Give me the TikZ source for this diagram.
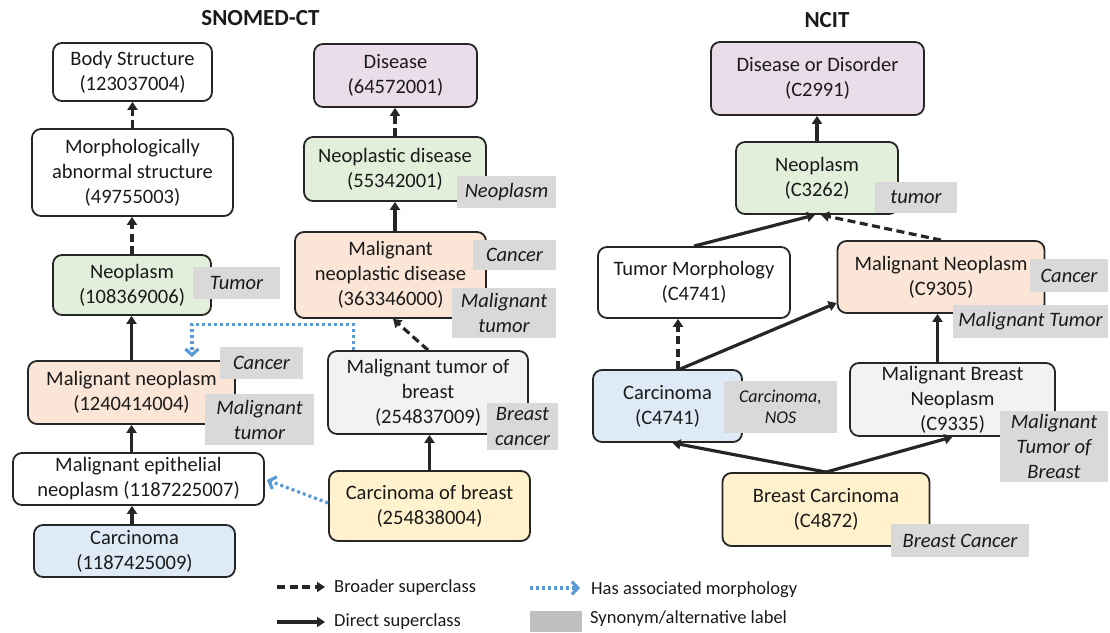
\documentclass[tikz,border=0pt]{standalone}
\usepackage{fontspec}
\setmainfont{Carlito}
\usetikzlibrary{arrows.meta,calc}
\definecolor{edgec}{HTML}{262626}
\definecolor{textc}{HTML}{1A1A1A}
\definecolor{cpurple}{HTML}{EADDE9}
\definecolor{cgreen}{HTML}{E2EFDA}
\definecolor{cpeach}{HTML}{FBE5D6}
\definecolor{cblue}{HTML}{DEEBF7}
\definecolor{cyellow}{HTML}{FFF2CC}
\definecolor{clgray}{HTML}{F2F2F2}
\definecolor{syngray}{HTML}{D9D9D9}
\definecolor{leggray}{HTML}{BFBFBF}
\definecolor{assocblue}{HTML}{5B9BD5}
\newcommand\mynodefont{\fontsize{20.5}{25}\selectfont}
\newcommand\mysmallfont{\fontsize{18}{21.5}\selectfont}
\newcommand\mytitlefont{\fontsize{23}{28}\selectfont\bfseries}
\newcommand\mylegfont{\fontsize{18.5}{22}\selectfont}
\tikzset{
  cbox/.style={draw=edgec, line width=1.8pt, rounded corners=9pt, align=center,
    inner sep=0pt, font=\mynodefont, text=textc},
  syn/.style={fill=syngray, inner sep=0pt, align=center, font=\mynodefont\itshape, text=textc},
  sup/.style={line width=3.2pt, draw=edgec, -{Triangle[length=8pt,width=10pt]}},
  broad/.style={sup, dash pattern=on 8pt off 4.5pt},
  assoc/.style={line width=3.2pt, draw=assocblue, dash pattern=on 3pt off 3pt,
    -{Straight Barb[length=6pt,width=13pt]}},
  legtext/.style={anchor=west, inner sep=0pt, font=\mylegfont, text=textc},
}
\begin{document}
\begin{tikzpicture}[x=1pt,y=-1pt]
\useasboundingbox (0,0) rectangle (1110,632);

% titles
\node[font=\mytitlefont, text=textc] (t1) at (260.5,18) {SNOMED-CT};
\node[font=\mytitlefont, text=textc] (t2) at (827,20) {NCIT};

% SNOMED-CT boxes
\node[cbox, minimum width=159, minimum height=58] (body) at (132.5,72) {Body Structure\\(123037004)};
\node[cbox, minimum width=201, minimum height=87] (morph) at (132.5,172.5) {Morphologically\\abnormal structure\\(49755003)};
\node[cbox, fill=cgreen, minimum width=158, minimum height=60] (neo) at (132,285) {Neoplasm\\(108369006)};
\node[cbox, fill=cpeach, minimum width=207, minimum height=63] (malneo) at (131.5,392.5) {Malignant neoplasm\\(1240414004)};
\node[cbox, minimum width=251, minimum height=52] (malepi) at (138.5,479) {Malignant epithelial\\neoplasm (1187225007)};
\node[cbox, fill=cblue, minimum width=201, minimum height=52] (carc) at (134.5,551) {Carcinoma\\(1187425009)};
\node[cbox, fill=cpurple, minimum width=163, minimum height=63] (disease) at (395.5,75.5) {Disease\\(64572001)};
\node[cbox, fill=cgreen, minimum width=182, minimum height=64] (neodis) at (395,169) {Neoplastic disease\\(55342001)};
\node[cbox, fill=cpeach, minimum width=191, minimum height=86] (malneodis) at (390.5,275) {Malignant\\neoplastic disease\\(363346000)};
\node[cbox, fill=clgray, minimum width=200, minimum height=83] (maltumbreast) at (428,392.5) {Malignant tumor of\\breast\\(254837009)};
\node[cbox, fill=cyellow, minimum width=201, minimum height=70] (carcbreast) at (429.5,506) {Carcinoma of breast\\(254838004)};

% NCIT boxes
\node[cbox, fill=cpurple, minimum width=213, minimum height=73] (disorder) at (817.5,78.5) {Disease or Disorder\\(C2991)};
\node[cbox, fill=cgreen, minimum width=162, minimum height=72] (ncneo) at (817,178) {Neoplasm\\(C3262)};
\node[cbox, minimum width=192, minimum height=71] (tumorph) at (694,282.5) {Tumor Morphology\\(C4741)};
\node[cbox, fill=cpeach, minimum width=207, minimum height=72] (ncmalneo) at (941,277) {Malignant Neoplasm\\(C9305)};
\node[cbox, fill=cblue, minimum width=149, minimum height=72] (nccarc) at (667.5,406) {Carcinoma\\(C4741)};
\node[cbox, fill=clgray, minimum width=205, minimum height=73] (malbreastneo) at (952.5,399.5) {Malignant Breast\\Neoplasm\\(C9335)};
\node[cbox, fill=cyellow, minimum width=207, minimum height=73] (breastcarc) at (826,509.5) {Breast Carcinoma\\(C4872)};

% synonyms SNOMED-CT
\node[syn, minimum width=87, minimum height=32] (s1) at (236.5,283) {Tumor};
\node[syn, minimum width=99, minimum height=32] (s2) at (506.5,192) {Neoplasm};
\node[syn, minimum width=83, minimum height=30] (s3) at (514.5,255) {Cancer};
\node[syn, minimum width=104, minimum height=50] (s4) at (504,313) {Malignant\\tumor};
\node[syn, minimum width=83, minimum height=32] (s5) at (261.5,363) {Cancer};
\node[syn, minimum width=109, minimum height=51] (s6) at (259.5,419.5) {Malignant\\tumor};
\node[syn, minimum width=71, minimum height=47] (s7) at (522.5,426.5) {Breast\\cancer};

% synonyms NCIT
\node[syn, minimum width=82, minimum height=31] (s8) at (916,197.5) {tumor};
\node[syn, minimum width=78, minimum height=33] (s9) at (1069,275.5) {Cancer};
\node[syn, minimum width=155, minimum height=33] (s10) at (1030.5,321.5) {Malignant Tumor};
\node[syn, font=\mysmallfont\itshape, minimum width=113, minimum height=52] (s11) at (780.5,407) {Carcinoma,\\NOS};
\node[syn, minimum width=108, minimum height=71] (s12) at (1054,446.5) {Malignant\\Tumor of\\Breast};
\node[syn, minimum width=138, minimum height=33] (s13) at (960,540.5) {Breast Cancer};

% SNOMED-CT connectors
\draw[broad] (morph.north) -- (body.south);
\draw[broad] (neo.north) -- (neo.north |- morph.south);
\draw[sup] (malneo.north) -- (malneo.north |- neo.south);
\draw[sup] (malneo.south |- malepi.north) -- (malneo.south);
\draw[sup] (carc.north) ++(-2.5,0) coordinate (c1) -- (c1 |- malepi.south);
\draw[broad] (neodis.north) -- (neodis.north |- disease.south);
\draw[sup] (neodis.south |- malneodis.north) -- (neodis.south);
\draw[broad] (maltumbreast.north) -- ($(malneodis.south)+(2.5,0)$);
\draw[sup] (carcbreast.north) -- (carcbreast.north |- maltumbreast.south);
\draw[assoc] ($(maltumbreast.north west)+(26,0)$) -- ++(0,-26) -| ($(malneo.north east)+(-44,-3)$);
\draw[assoc] ($(carcbreast.west)+(0,-3)$) -- ($(malepi.east)+(2,1)$);

% NCIT connectors
\draw[sup] (ncneo.north) -- (ncneo.north |- disorder.south);
\draw[sup] (tumorph.north) -- ($(ncneo.south)+(-2,0)$);
\draw[broad] (ncmalneo.north) -- ($(ncneo.south)+(4,0)$);
\draw[broad] (nccarc.north) ++(10.5,0) coordinate (c2) -- (c2 |- tumorph.south);
\draw[sup] ($(nccarc.north)+(12.5,0)$) -- ($(ncmalneo.south west)+(0,-11)$);
\draw[sup] (malbreastneo.north) ++(-15,0) coordinate (c3) -- (c3 |- ncmalneo.south);
\draw[sup] (breastcarc.north) -- ($(nccarc.south)+(5,0)$);
\draw[sup] (breastcarc.north) -- (malbreastneo.south);

% legend
\coordinate (la1) at (277,587);
\coordinate (lb1) at (325,587);
\draw[broad] (la1) -- (lb1);
\node[legtext] (lt1) at (334,588) {Broader superclass};
\coordinate (la2) at (277,622);
\coordinate (lb2) at (325,622);
\draw[sup] (la2) -- (lb2);
\node[legtext] (lt2) at (334,622) {Direct superclass};
\coordinate (la3) at (530,588);
\coordinate (lb3) at (580,588);
\draw[assoc] (la3) -- (lb3);
\node[legtext] (lt3) at (591,590) {Has associated morphology};
\node[fill=leggray, minimum width=52, minimum height=21, inner sep=0pt] (lg) at (556,621.5) {};
\node[legtext] (lt4) at (590,619) {Synonym/alternative label};
\end{tikzpicture}
\end{document}
